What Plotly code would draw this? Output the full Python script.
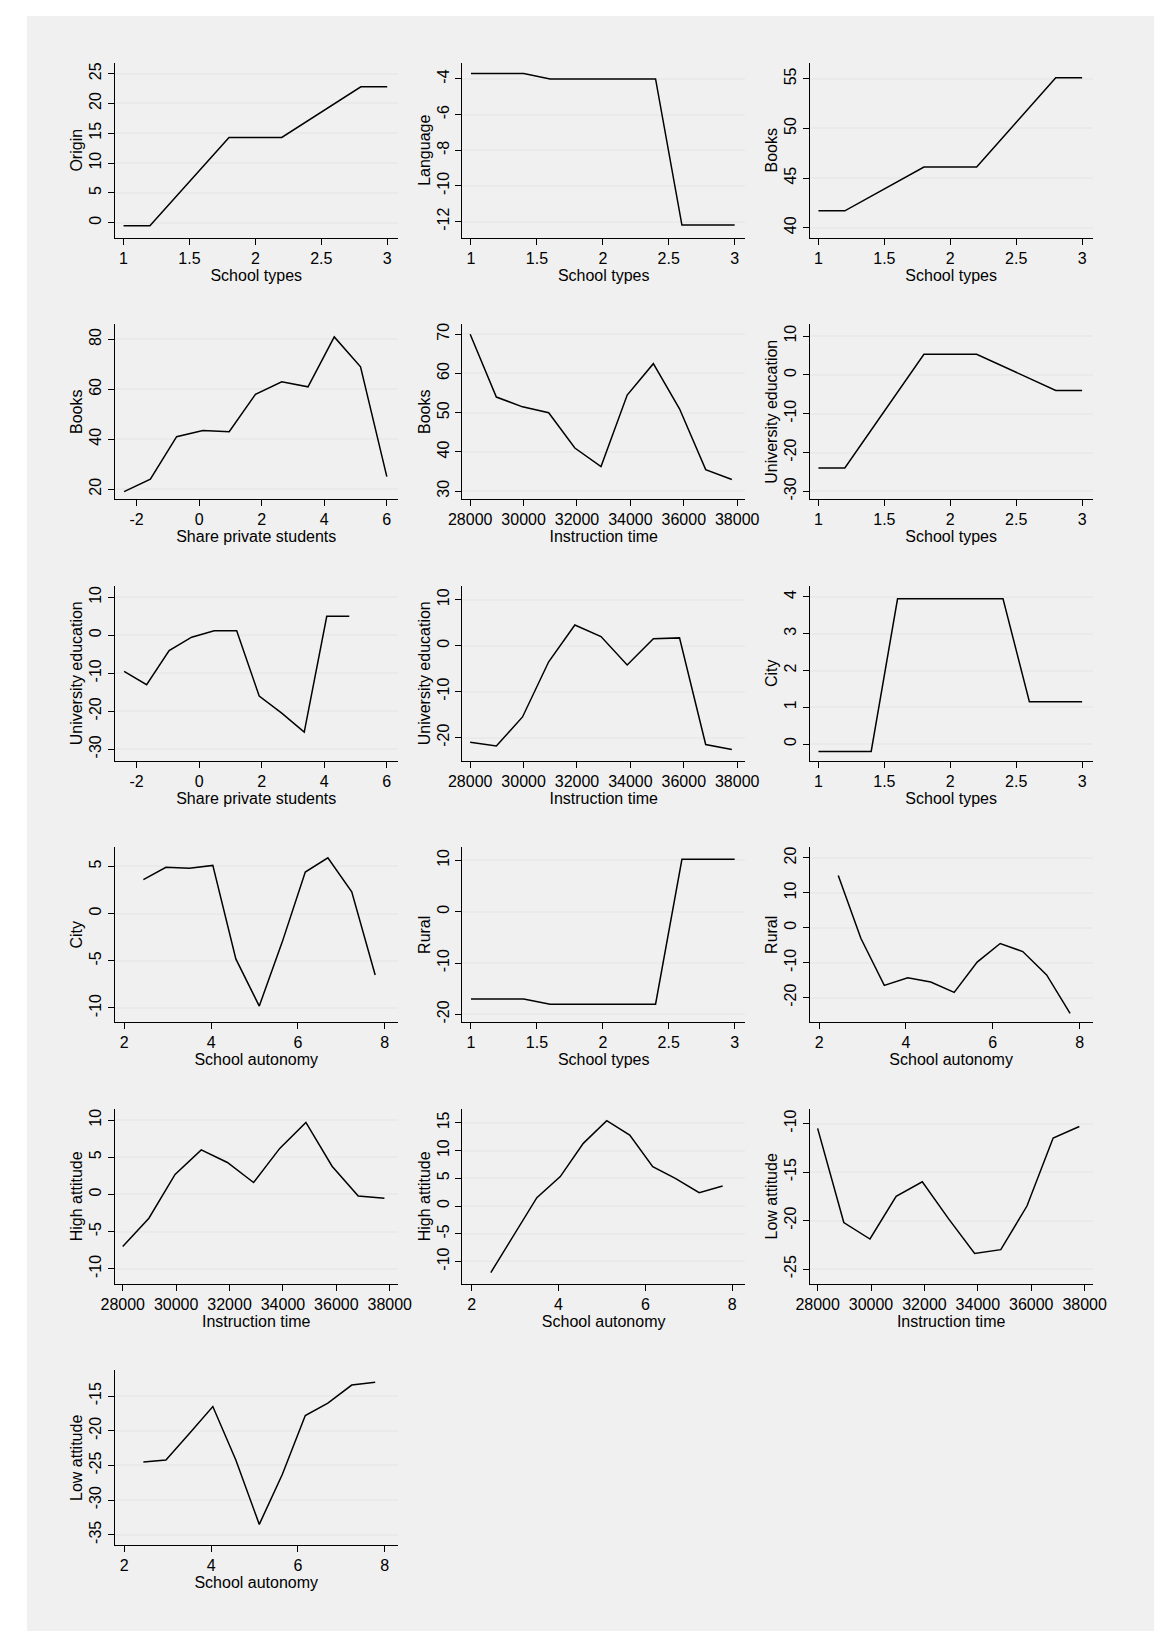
import plotly.graph_objects as go

W, H = 1166, 1631

school_types_a = [1, 1.2, 1.8, 2.2, 2.8, 3]
school_types_b = [1, 1.4, 1.6, 2.4, 2.6, 3]
share_a = [-2.4, -1.56, -0.72, 0.12, 0.96, 1.8, 2.64, 3.48, 4.32, 5.16, 6.0]
share_b = [-2.4, -1.68, -0.96, -0.24, 0.48, 1.2, 1.92, 2.64, 3.36, 4.08, 4.8]
instr = [28000, 28980, 29960, 30940, 31920, 32900, 33880, 34860, 35840, 36820, 37800]
autonomy = [2.44, 2.96, 3.5, 4.04, 4.57, 5.11, 5.64, 6.17, 6.69, 7.24, 7.78]

origin_st = [-0.5, -0.5, 14.3, 14.3, 22.8, 22.8]
language_st = [-3.7, -3.7, -4.0, -4.0, -12.2, -12.2]
books_st = [41.7, 41.7, 46.1, 46.1, 55.1, 55.1]
books_sh = [19, 24, 41, 43.5, 43, 58, 63, 61, 81, 69, 25]
books_it = [70, 54, 51.5, 50, 41, 36.3, 54.5, 62.5, 51, 35.5, 33]
univ_st = [-24, -24, 5.3, 5.3, -4, -4]
univ_sh = [-9.5, -13, -4, -0.5, 1.2, 1.2, -16, -20.5, -25.5, 5, 5]
univ_it = [-21, -21.8, -15.5, -3.5, 4.5, 2, -4.2, 1.5, 1.7, -21.5, -22.6]
city_st = [-0.2, -0.2, 3.95, 3.95, 1.15, 1.15]
city_au = [3.6, 4.9, 4.8, 5.1, -4.8, -9.8, -3, 4.4, 5.9, 2.3, -6.5]
rural_st = [-17, -17, -18, -18, 10.2, 10.2]
rural_au = [15, -3, -16.5, -14.3, -15.5, -18.5, -9.8, -4.5, -6.8, -13.5, -24.5]
high_it = [-7, -3.2, 2.7, 6, 4.3, 1.6, 6.2, 9.7, 3.8, -0.2, -0.5]
high_au = [-12, -5.5, 1.5, 5.3, 11.3, 15.4, 12.8, 7.1, 5, 2.4, 3.6]
low_it = [-10.5, -20.2, -21.9, -17.5, -16, -19.8, -23.4, -23, -18.5, -11.5, -10.3]
low_au = [-24.5, -24.2, -20.4, -16.5, -24.2, -33.5, -26.3, -17.8, -16, -13.4, -13]

st_ax = dict(title="School types", range=[0.933, 3.08], tickvals=[1, 1.5, 2, 2.5, 3])
sh_ax = dict(title="Share private students", range=[-2.7, 6.35], tickvals=[-2, 0, 2, 4, 6])
it_ax = dict(title="Instruction time", range=[27700, 38300], tickvals=list(range(28000, 38001, 2000)))
au_ax = dict(title="School autonomy", range=[1.78, 8.3], tickvals=[2, 4, 6, 8])

panels = [
    (school_types_a, origin_st, st_ax, "Origin", [-2.5, 26.8], [0, 5, 10, 15, 20, 25]),
    (school_types_b, language_st, st_ax, "Language", [-12.9, -3.1], [-12, -10, -8, -6, -4]),
    (school_types_a, books_st, st_ax, "Books", [39, 56.6], [40, 45, 50, 55]),
    (share_a, books_sh, sh_ax, "Books", [16, 86], [20, 40, 60, 80]),
    (instr, books_it, it_ax, "Books", [28, 72.5], [30, 40, 50, 60, 70]),
    (school_types_a, univ_st, st_ax, "University education", [-32, 13], [-30, -20, -10, 0, 10]),
    (share_b, univ_sh, sh_ax, "University education", [-33, 13], [-30, -20, -10, 0, 10]),
    (instr, univ_it, it_ax, "University education", [-25, 13], [-20, -10, 0, 10]),
    (school_types_b, city_st, st_ax, "City", [-0.45, 4.3], [0, 1, 2, 3, 4]),
    (autonomy, city_au, au_ax, "City", [-11.5, 7], [-10, -5, 0, 5]),
    (school_types_b, rural_st, st_ax, "Rural", [-21.5, 12.5], [-20, -10, 0, 10]),
    (autonomy, rural_au, au_ax, "Rural", [-27, 23], [-20, -10, 0, 10, 20]),
    (instr, high_it, it_ax, "High attitude", [-12, 11.5], [-10, -5, 0, 5, 10]),
    (autonomy, high_au, au_ax, "High attitude", [-14, 17.5], [-10, -5, 0, 5, 10, 15]),
    (instr, low_it, it_ax, "Low attitude", [-26.5, -8.5], [-25, -20, -15, -10]),
    (autonomy, low_au, au_ax, "Low attitude", [-36.5, -11.3], [-35, -30, -25, -20, -15]),
]

fig = go.Figure()
font = dict(family="Liberation Sans, Arial", size=16, color="black")


def labels(vals):
    return [f"{v:g}" for v in vals]


for i, (xs, ys, xax, ytitle, yr, yt) in enumerate(panels):
    r, c = divmod(i, 3)
    left, right = 95 + 356 * c, 385 + 356 * c
    top = 53 + 262 * r
    bottom = top + 175
    n = "" if i == 0 else str(i + 1)
    fig.add_trace(go.Scatter(x=xs, y=ys, mode="lines", line=dict(color="black", width=1.5),
                             xaxis="x" + n, yaxis="y" + n, showlegend=False))
    fig.layout["xaxis" + n] = dict(
        domain=[left / W, right / W], anchor="y" + n, range=xax["range"],
        tickvals=xax["tickvals"], ticktext=labels(xax["tickvals"]),
        title=dict(text=xax["title"], standoff=0, font=font),
        showgrid=False, zeroline=False, showline=True, linecolor="black", linewidth=1,
        ticks="outside", ticklen=6, tickcolor="black", tickfont=font)
    fig.layout["yaxis" + n] = dict(
        domain=[1 - bottom / H, 1 - top / H], anchor="x" + n, range=yr,
        tickvals=yt, ticktext=labels(yt),
        title=dict(text=ytitle, standoff=0, font=font), tickangle=-90,
        showgrid=True, gridcolor="#eaeaea", gridwidth=1.5, zeroline=False,
        showline=True, linecolor="black", linewidth=1,
        ticks="outside", ticklen=6, tickcolor="black", tickfont=font)

fig.add_shape(type="rect", xref="paper", yref="paper", x0=5 / W, x1=1 - 6 / W,
              y0=6 / H, y1=1 - 6 / H, fillcolor="#f0f0f0", line_width=0, layer="below")
fig.update_layout(width=W, height=H, margin=dict(l=0, r=0, t=0, b=0),
                  paper_bgcolor="white", plot_bgcolor="white", font=font)
fig.write_html("out.html")
